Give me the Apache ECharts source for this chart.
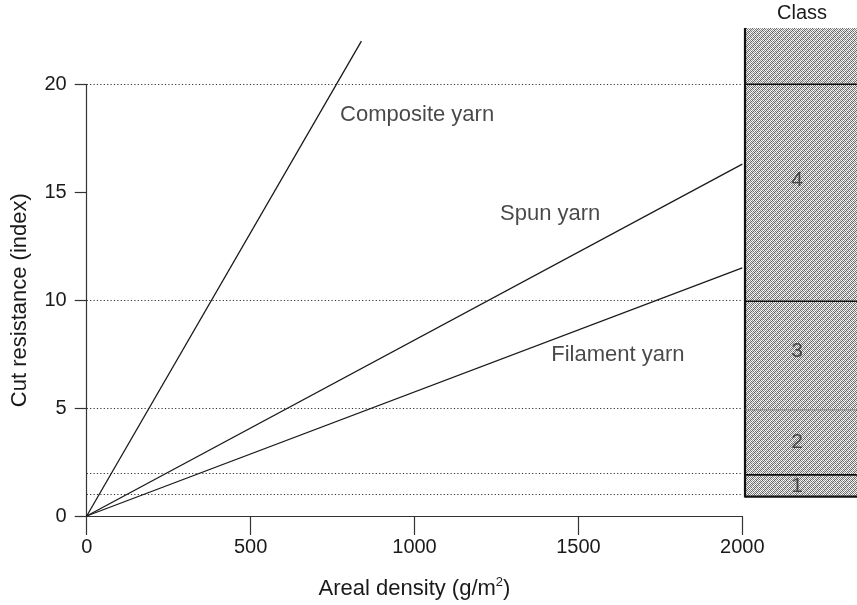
<!DOCTYPE html>
<html>
<head>
<meta charset="utf-8">
<script src="https://cdn.jsdelivr.net/npm/echarts@6/dist/echarts.min.js"></script>
<style>
  html, body { margin: 0; padding: 0; background: #fff; }
  #chart { width: 857px; height: 605px; }
</style>
</head>
<body>
<div id="chart"></div>
<script>
// Cut resistance versus areal density for three yarn types
const densityTicks = [0, 500, 1000, 1500, 2000];
const resistanceTicks = [0, 5, 10, 15, 20];
const compositeYarn = [[0, 0], [838, 22]];
const spunYarn = [[0, 0], [2000, 16.3]];
const filamentYarn = [[0, 0], [2000, 11.5]];
const yarnNames = ['Composite yarn', 'Spun yarn', 'Filament yarn'];

// Dotted reference levels (class boundaries)
const guideLevels = [20, 10, 5, 2, 1];

// Protection classes: lower/upper bounds of each band
const classNames = ['1', '2', '3', '4', '5'];
const classBounds = [1, 2, 5, 10, 20, 22.6];

// Layout
const FONT = '"Liberation Sans", Arial, Helvetica, sans-serif';
const INK = '#1a1a1a';
const yarnLabelAnchors = [[773, 18.6], [1261, 14.0], [1417, 7.45]];
const classLabelAnchors = [1.5, 3.5, 7.7, 15.6, 21.3];
const boxLeft = 745, boxWidth = 125;

// Halftone-like stipple tile for the class box
function stipple() {
  const n = 6;
  const c = document.createElement('canvas');
  c.width = n; c.height = n;
  const g = c.getContext('2d');
  const darks = ['#5e5e5e', '#767676', '#8a8a8a', '#6a6a6a', '#9a9a9a', '#707070'];
  const lights = ['#ffffff', '#f4f4f4', '#e6e6e6', '#fafafa', '#dcdcdc', '#f0f0f0'];
  for (let i = 0; i < n; i++) for (let j = 0; j < n; j++) {
    const k = (i * 2 + j * 5) % 6;
    g.fillStyle = (i + j) % 2 === 0 ? darks[k] : lights[k];
    g.fillRect(j, i, 1, 1);
  }
  return c;
}
const pattern = stipple();

const chart = echarts.init(document.getElementById('chart'), null, { renderer: 'canvas' });

const lineStyle = { color: INK, width: 1.3 };

const bands = classNames.map((n, i) => [classBounds[i], classBounds[i + 1], n]);

const option = {
  animation: false,
  textStyle: { fontFamily: FONT },
  grid: [
    { left: 86.7, right: 857 - 742.3, top: 84.3, bottom: 605 - 518.3 },
    { left: boxLeft, width: boxWidth, top: 84.3, bottom: 605 - 518.3 }
  ],
  xAxis: [
    {
      gridIndex: 0, type: 'value', min: densityTicks[0], max: densityTicks[densityTicks.length - 1], interval: 500,
      name: 'Areal density (g/m{sup|2})', nameLocation: 'middle', nameGap: 60,
      nameTextStyle: {
        fontSize: 22, color: INK, fontFamily: FONT,
        rich: { sup: { fontSize: 13, verticalAlign: 'top', padding: [0, 0, 13, 0], color: INK, fontFamily: FONT } }
      },
      axisLine: { show: true, onZero: false, lineStyle: { color: '#333', width: 1.2 } },
      axisTick: { show: true, inside: false, length: 19, lineStyle: { color: '#333', width: 1.2 } },
      axisLabel: { fontSize: 20, color: INK, margin: 21, fontFamily: FONT, formatter: v => String(v) },
      splitLine: { show: false }
    },
    { gridIndex: 1, type: 'value', min: 0, max: boxWidth, show: false }
  ],
  yAxis: [
    {
      gridIndex: 0, type: 'value', min: resistanceTicks[0], max: resistanceTicks[resistanceTicks.length - 1], interval: 5,
      name: 'Cut resistance (index)', nameLocation: 'middle', nameGap: 56,
      nameTextStyle: { fontSize: 22, color: INK, fontFamily: FONT },
      axisLine: { show: true, onZero: false, lineStyle: { color: '#333', width: 1.2 } },
      axisTick: { show: true, inside: false, length: 12, lineStyle: { color: '#333', width: 1.2 } },
      axisLabel: { fontSize: 20, color: INK, margin: 20, fontFamily: FONT, formatter: v => String(v) },
      splitLine: { show: false }
    },
    { gridIndex: 1, type: 'value', min: 0, max: 20, show: false }
  ],
  series: [
    {
      type: 'line', name: yarnNames[0], data: compositeYarn, showSymbol: false, symbol: 'none',
      clip: false, lineStyle: lineStyle, z: 5,
      markLine: {
        silent: true, symbol: 'none', label: { show: false },
        lineStyle: { type: [1.2, 2.2], color: '#333', width: 1 },
        data: guideLevels.map(v => ({ yAxis: v }))
      }
    },
    { type: 'line', name: yarnNames[1], data: spunYarn, showSymbol: false, symbol: 'none', clip: false, lineStyle: lineStyle, z: 5 },
    { type: 'line', name: yarnNames[2], data: filamentYarn, showSymbol: false, symbol: 'none', clip: false, lineStyle: lineStyle, z: 5 },
    {
      type: 'scatter', symbolSize: 0, silent: true, z: 6,
      data: yarnNames.map((n, i) => ({ name: n, value: yarnLabelAnchors[i] })),
      label: {
        show: true, position: 'right', distance: 0, formatter: p => p.name,
        fontSize: 22, color: INK, fontFamily: FONT
      }
    },
    {
      // class bands with stippled fill
      type: 'custom', xAxisIndex: 1, yAxisIndex: 1, clip: false, silent: true, z: 2,
      data: bands,
      renderItem: (params, api) => {
        const lo = api.value(0), hi = api.value(1);
        const p0 = api.coord([0, hi]);
        const p1 = api.coord([boxWidth, lo]);
        return {
          type: 'rect',
          shape: { x: Math.round(p0[0]), y: Math.round(p0[1]), width: Math.round(p1[0] - p0[0]), height: Math.round(p1[1] - p0[1]) },
          style: { fill: { image: pattern, repeat: 'repeat' } }
        };
      }
    },
    {
      // band boundaries and box frame
      type: 'custom', xAxisIndex: 1, yAxisIndex: 1, clip: false, silent: true, z: 3,
      data: classBounds.slice(0, 5).map(v => [v]),
      renderItem: (params, api) => {
        const v = api.value(0);
        const a = api.coord([0, v]);
        const b = api.coord([boxWidth, v]);
        const light = v === 5;
        const children = [{
          type: 'line',
          shape: { x1: a[0], y1: a[1], x2: b[0], y2: b[1] },
          style: { stroke: light ? '#666' : '#111', lineWidth: v === 1 ? 2.2 : (light ? 1 : 1.6) }
        }];
        if (params.dataIndex === 0) {
          const top = api.coord([0, classBounds[classBounds.length - 1]]);
          children.push({
            type: 'line',
            shape: { x1: a[0], y1: a[1] + 1, x2: top[0], y2: top[1] },
            style: { stroke: '#111', lineWidth: 2.2 }
          });
        }
        return { type: 'group', children };
      }
    },
    {
      // class numbers
      type: 'scatter', xAxisIndex: 1, yAxisIndex: 1, symbolSize: 0, silent: true, z: 4,
      data: classNames.map((n, i) => ({ name: n, value: [58, classLabelAnchors[i]] })),
      label: {
        show: true, position: 'inside', formatter: p => p.name,
        fontSize: 21, color: '#2a2a2a', fontFamily: FONT
      }
    }
  ],
  graphic: [
    {
      type: 'text', left: 777, top: 3,
      style: { text: 'Class', fontSize: 20, fill: INK, fontFamily: FONT }
    }
  ]
};

chart.setOption(option);
</script>
</body>
</html>
